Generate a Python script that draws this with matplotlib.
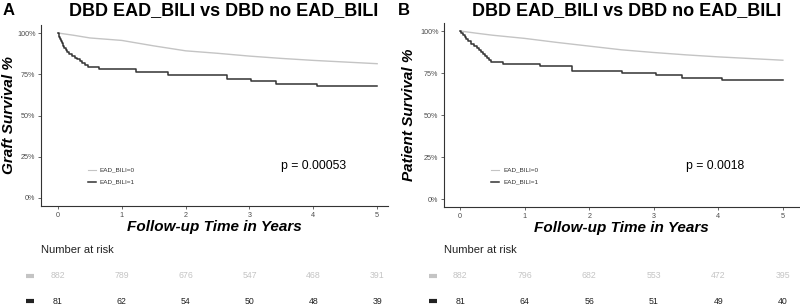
"""Courbes de survie DBD EAD_BILI vs DBD no EAD_BILI (greffon / patient)."""
import matplotlib

matplotlib.use("Agg")
import matplotlib.pyplot as plt  # noqa: E402
from matplotlib.lines import Line2D  # noqa: E402
from matplotlib.transforms import blended_transform_factory  # noqa: E402

plt.rcParams["font.family"] = ["Liberation Sans", "DejaVu Sans"]

W, H = 800, 305

# --- données ---
# panneau A : survie du greffon
a_t0 = [0, 0.25, 0.5, 1.0, 1.5, 2.0, 2.5, 3.0, 3.5, 4.0, 4.5, 5.0]
a_s0 = [100, 98.6, 97.0, 95.5, 92.2, 89.2, 87.7, 86.0, 84.6, 83.4, 82.4, 81.4]
a_t1 = [0, 0.01, 0.02, 0.03, 0.05, 0.06, 0.08, 0.10, 0.12, 0.14, 0.18, 0.22,
        0.26, 0.30, 0.34, 0.38, 0.42, 0.475, 0.65, 1.23, 1.72, 2.64, 3.03,
        3.42, 4.05, 5.0]
a_s1 = [100, 98.8, 97.5, 96.2, 94.9, 93.7, 92.4, 91.1, 89.9, 88.6, 87.4, 86.1,
        84.9, 84.0, 83.1, 81.9, 80.7, 79.5, 77.9, 76.4, 74.4, 72.1, 70.9,
        69.3, 67.9, 67.9]
a_risk0 = [882, 789, 676, 547, 468, 391]
a_risk1 = [81, 62, 54, 50, 48, 39]
a_p = "p = 0.00053"

# panneau B : survie du patient
b_t0 = [0, 0.25, 0.5, 1.0, 1.5, 2.0, 2.5, 3.0, 3.5, 4.0, 4.5, 5.0]
b_s0 = [100, 98.7, 97.5, 95.6, 93.2, 91.0, 88.8, 87.2, 85.8, 84.6, 83.6, 82.6]
b_t1 = [0, 0.02, 0.04, 0.07, 0.09, 0.12, 0.17, 0.22, 0.26, 0.29, 0.32, 0.35,
        0.38, 0.41, 0.44, 0.485, 0.66, 1.24, 1.73, 2.50, 3.04, 3.43, 4.05, 5.0]
b_s1 = [100, 98.8, 97.5, 96.3, 95.0, 93.8, 92.5, 91.3, 90.0, 88.8, 87.5, 86.3,
        85.0, 83.8, 82.6, 81.6, 80.6, 79.2, 76.2, 75.2, 73.6, 72.2, 70.6, 70.6]
b_risk0 = [882, 796, 682, 553, 472, 395]
b_risk1 = [81, 64, 56, 51, 49, 40]
b_p = "p = 0.0018"

years = [0, 1, 2, 3, 4, 5]
yticks = [0, 25, 50, 75, 100]
ylabels = ["0%", "25%", "50%", "75%", "100%"]
legend_labels = ["EAD_BILI=0", "EAD_BILI=1"]
title = "DBD EAD_BILI vs DBD no EAD_BILI"

C_LIGHT = "#c4c4c4"
C_DARK = "#333333"
C_TICK = "#4d4d4d"


def fx(x):
    return x / W


def fy(y):
    return 1 - y / H


fig = plt.figure(figsize=(8, 3.05), dpi=100)


def panel(letter, box, xlim, t0, s0, t1, s1, risk0, risk1, ptxt, ylab, ylab_x,
          title_x, letter_x, leg_x, mark_x):
    left, top, right, bottom = box
    ax = fig.add_axes([fx(left), fy(bottom), fx(right - left), (bottom - top) / H])
    ax.plot(t0, s0, color=C_LIGHT, lw=1.0)
    ax.step(t1, s1, where="post", color=C_DARK, lw=1.1)
    ax.set_xlim(*xlim)
    ax.set_ylim(-5, 105)
    ax.set_xticks(years)
    ax.set_yticks(yticks)
    ax.set_yticklabels(ylabels)
    ax.tick_params(labelsize=5.2, colors=C_TICK, length=2.5, width=0.6, pad=1.5)
    for s in ("top", "right"):
        ax.spines[s].set_visible(False)
    for s in ("left", "bottom"):
        ax.spines[s].set_color(C_DARK)
        ax.spines[s].set_linewidth(0.8)
    ax.set_xlabel("Follow-up Time in Years", fontsize=11, fontweight="bold",
                  fontstyle="italic", labelpad=1)
    fig.text(fx(ylab_x), fy((top + bottom) / 2), ylab, rotation=90, fontsize=11,
             fontweight="bold", fontstyle="italic", ha="center", va="center")

    ax.text(3.5, 19.5, ptxt, fontsize=8.8, ha="left", va="center")

    # légende
    for i, (lab, col, lw) in enumerate(zip(legend_labels, [C_LIGHT, C_DARK], [0.8, 1.1])):
        yy = 170 + i * 12
        fig.add_artist(Line2D([fx(leg_x), fx(leg_x + 8)], [fy(yy), fy(yy)],
                              color=col, lw=lw))
        fig.text(fx(leg_x + 12), fy(yy), lab, fontsize=4.6, color="#333333",
                 va="center", ha="left")

    fig.text(fx(title_x), fy(11), title, fontsize=13, fontweight="bold",
             ha="center", va="center")
    fig.text(fx(letter_x), fy(10.5), letter, fontsize=12, fontweight="bold",
             ha="center", va="center")

    # tableau des effectifs à risque
    fig.text(fx(left), fy(250), "Number at risk", fontsize=8, ha="left",
             va="center", color="#222222")
    tr = blended_transform_factory(ax.transData, fig.transFigure)
    for row, (vals, col) in enumerate(zip([risk0, risk1], [C_LIGHT, "#222222"])):
        yy = 276 + row * 25
        for x, v in zip(years, vals):
            fig.text(x, fy(yy), str(v), transform=tr, fontsize=6.3, color=col,
                     ha="center", va="center")
        fig.add_artist(Line2D([fx(mark_x), fx(mark_x + 8)], [fy(yy), fy(yy)],
                              color=col, lw=3, solid_capstyle="butt"))
    return ax


panel("A", (41, 24.75, 388, 206.25), (-0.266, 5.17), a_t0, a_s0, a_t1, a_s1,
      a_risk0, a_risk1, a_p, "Graft Survival %", 9, 223.5, 9, 88, 26)
panel("B", (444, 22.6, 799, 207.4), (-0.25, 5.25), b_t0, b_s0, b_t1, b_s1,
      b_risk0, b_risk1, b_p, "Patient Survival %", 409, 627, 404, 491, 429)

fig.savefig("out.png", dpi=100)
